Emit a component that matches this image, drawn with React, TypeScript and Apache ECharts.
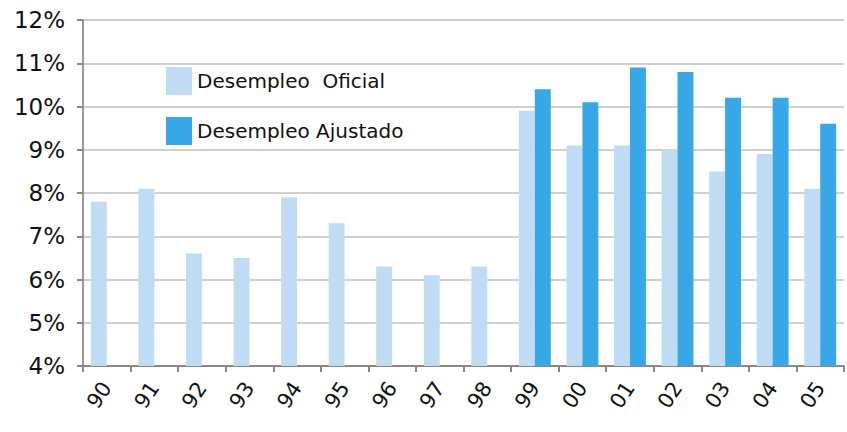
import React, { useEffect, useRef } from "react";
import * as echarts from "echarts";

const categories = ["90", "91", "92", "93", "94", "95", "96", "97", "98", "99", "00", "01", "02", "03", "04", "05"];
const oficial = [7.8, 8.1, 6.6, 6.5, 7.9, 7.3, 6.3, 6.1, 6.3, 9.9, 9.1, 9.1, 9.0, 8.5, 8.9, 8.1];
const ajustado = [null, null, null, null, null, null, null, null, null, 10.4, 10.1, 10.9, 10.8, 10.2, 10.2, 9.6];
const seriesNames = ["Desempleo  Oficial", "Desempleo Ajustado"];

export default function App() {
  const ref = useRef<HTMLDivElement>(null);
  useEffect(() => {
    const chart = echarts.init(ref.current!, null, { renderer: "svg" });
    const font = "'DejaVu Sans', sans-serif";
    chart.setOption({
      animation: false,
      textStyle: { fontFamily: font },
      grid: { left: 83, right: 3, top: 20, bottom: 66, containLabel: false },
      legend: {
        orient: "vertical",
        left: 161,
        top: 62,
        itemWidth: 26,
        itemHeight: 28,
        itemGap: 22,
        icon: "rect",
        textStyle: { fontSize: 20, color: "#111", fontFamily: font, padding: [2, 0, 0, 0] },
        data: seriesNames,
      },
      xAxis: {
        type: "category",
        data: categories,
        axisLine: { lineStyle: { color: "#888", width: 2 } },
        axisTick: { show: true, length: 6, lineStyle: { color: "#888", width: 2 } },
        axisLabel: { rotate: 56, fontSize: 21, color: "#111", margin: 18, fontFamily: font },
      },
      yAxis: {
        type: "value",
        min: 4,
        max: 12,
        interval: 1,
        axisLine: { show: true, lineStyle: { color: "#999", width: 2 } },
        axisTick: { show: true, length: 6, lineStyle: { color: "#888", width: 2 } },
        splitLine: { lineStyle: { color: "#d0d0d0", width: 2 } },
        axisLabel: { formatter: "{value}%", fontSize: 23, color: "#111", margin: 18, fontFamily: font },
      },
      series: [
        {
          name: seriesNames[0],
          type: "bar",
          data: oficial,
          itemStyle: { color: "#bfdcf4" },
          barGap: "0%",
          barCategoryGap: "33%",
        },
        {
          name: seriesNames[1],
          type: "bar",
          data: ajustado,
          itemStyle: { color: "#37a7e7" },
          barGap: "0%",
          barCategoryGap: "33%",
        },
      ],
    });
    return () => chart.dispose();
  }, []);
  return <div ref={ref} style={{ width: 847, height: 432, position: "absolute", left: 0, top: 0 }} />;
}
